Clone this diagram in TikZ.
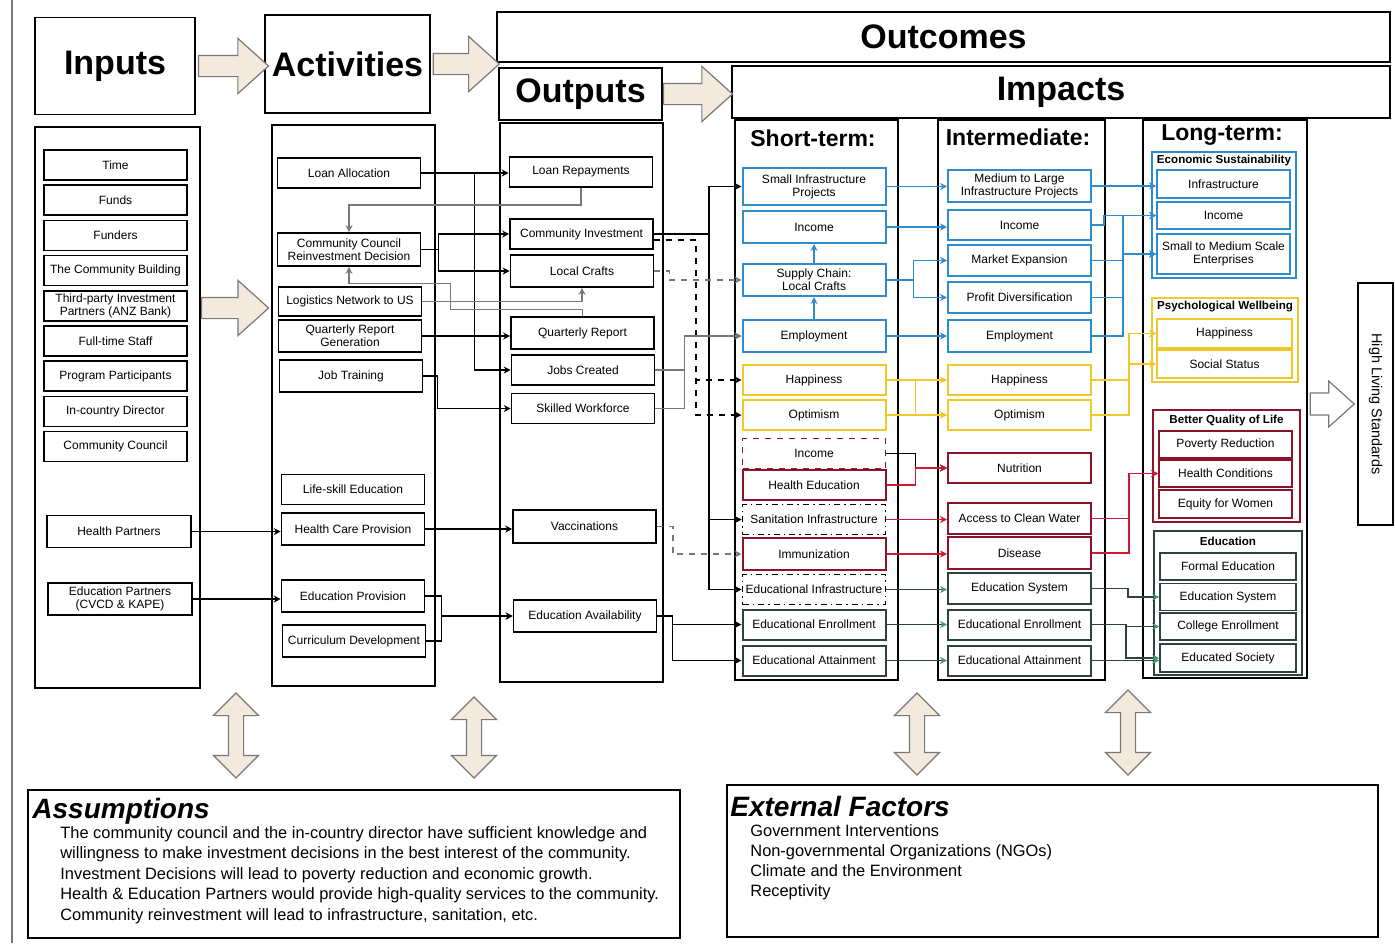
\documentclass[tikz,border=0pt]{standalone}
\usepackage{fontspec}
\setmainfont{Liberation Sans}
\usepackage{graphicx}
\usetikzlibrary{arrows.meta, positioning, shapes.arrows}

\definecolor{skyb}{RGB}{45,140,205}
\definecolor{gold}{RGB}{240,200,40}
\definecolor{crim}{RGB}{205,25,50}
\definecolor{wine}{RGB}{140,20,40}
\definecolor{slate}{RGB}{45,65,65}
\definecolor{sage}{RGB}{70,150,110}
\definecolor{sand}{RGB}{243,233,220}
\definecolor{ash}{RGB}{120,120,120}

\begin{document}
\begin{tikzpicture}[
  x=0.5pt, y=-0.5pt,
  node distance=1.8pt,
  box/.style={draw, line width=0.8pt, minimum width=71.5pt, minimum height=15pt, inner sep=1pt, align=center, font=\fontsize{6}{6.6}\selectfont},
  bbox/.style={box, draw=skyb, line width=1pt},
  ybox/.style={box, draw=gold, line width=1pt},
  rbox/.style={box, draw=wine, line width=1pt},
  ebox/.style={box, draw=slate, line width=1pt},
  lbox/.style={box, minimum width=66.5pt, minimum height=14pt},
  group/.style={draw, line width=1pt},
  grouptitle/.style={font=\fontsize{5.8}{6.4}\selectfont\bfseries},
  col/.style={draw, line width=0.9pt},
  head/.style={draw, line width=0.9pt, font=\fontsize{17}{20}\selectfont\bfseries},
  coltitle/.style={font=\fontsize{11.5}{13}\selectfont\bfseries},
  fatarrow/.style={single arrow, draw=ash, fill=sand, line width=0.6pt, minimum width=0pt, inner xsep=0pt, inner ysep=5pt, single arrow head extend=8.5pt, single arrow tip angle=84},
  updown/.style={double arrow, draw=ash, fill=sand, line width=0.6pt, rotate=90, minimum width=0pt, inner xsep=0pt, inner ysep=3.5pt, double arrow head extend=7.5pt, double arrow tip angle=90},
  link/.style={line width=0.7pt, ->, >={Stealth[length=3.5pt,width=3.5pt]}},
  glink/.style={link, draw=ash},
  dlink/.style={link, dashed},
  blink/.style={link, draw=skyb},
  ylink/.style={link, draw=gold},
  rlink/.style={link, draw=crim},
  elink/.style={link, draw=slate, >={Stealth[length=3.5pt,width=3.5pt,color=sage]}}
]
\useasboundingbox (0,0) rectangle (1395,943);

% Page edge
\draw[line width=0.6pt, ash] (12,0) -- (12,943);

% Headers
\node[head, minimum width=80pt, minimum height=48.5pt] (inH) at (115,66) {Inputs};
\node[head, minimum width=80.5pt, minimum height=49pt] (actH) at (347.5,64) {Activities};
\node[head, minimum width=446.5pt, minimum height=25pt] (outcH) at (943.5,37) {Outcomes};
\node[head, minimum width=81.5pt, minimum height=26pt] (outpH) at (580.5,94) {Outputs};
\node[head, minimum width=329pt, minimum height=26pt] (impH) at (1061,92) {Impacts};

\node[fatarrow, anchor=tail, minimum height=35pt] (arIA) at ([xshift=1pt]inH.east) {};
\node[fatarrow, anchor=tail, minimum height=33pt] (arAO) at ([xshift=1pt]actH.east) {};
\node[fatarrow, anchor=tail, minimum height=34.5pt] (arOI) at (outpH.east) {};

% Columns
\node[col, minimum width=82.5pt, minimum height=280.5pt] (colIn) at (117.5,407.5) {};
\node[col, minimum width=81.5pt, minimum height=280.5pt] (colAct) at (353.5,405.5) {};
\node[col, minimum width=81.5pt, minimum height=279.5pt] (colOut) at (581.5,402.5) {};
\node[col, minimum width=81.5pt, minimum height=280pt] (colST) at (816.5,400) {};
\node[col, minimum width=83.5pt, minimum height=280pt] (colInt) at (1021.5,400) {};
\node[col, minimum width=82pt, minimum height=279pt] (colLT) at (1225,399) {};

\node[fatarrow, anchor=tail, minimum height=33.5pt] (arCol) at (201,308) {};

\node[coltitle] (stT) at (813,138) {Short-term:};
\node[coltitle] (intT) at (1018,137) {Intermediate:};
\node[coltitle] (ltT) at (1222,135) {Long-term:};

% Inputs
\node[box] (time) at (115.5,165) {Time};
\node[box, below=of time] (funds) {Funds};
\node[box, below=of funds] (funders) {Funders};
\node[box, below=of funders] (cbld) {The Community Building};
\node[box, below=of cbld] (tpip) {Third-party Investment\\Partners (ANZ Bank)};
\node[box, below=of tpip] (staff) {Full-time Staff};
\node[box, below=of staff] (ppart) {Program Participants};
\node[box, below=of ppart] (icd) {In-country Director};
\node[box, below=of icd] (ccl) {Community Council};
\node[box, minimum width=72pt, minimum height=16pt] (hp) at (119,531.5) {Health Partners};
\node[box, minimum width=72pt, minimum height=16pt] (edp) at (120,599) {Education Partners\\(CVCD \& KAPE)};

% Activities
\node[box] (la) at (349,173) {Loan Allocation};
\node[box, minimum height=16.5pt] (ccrd) at (349,249.5) {Community Council\\Reinvestment Decision};
\node[box, minimum height=14.5pt] (lnus) at (350,301.5) {Logistics Network to US};
\node[box, minimum height=16pt] (qrg) at (350,336) {Quarterly Report\\Generation};
\node[box, minimum height=16pt] (jt) at (351,376) {Job Training};
\node[box] (lse) at (353,489.5) {Life-skill Education};
\node[box, minimum height=16pt] (hcp) at (353,529) {Health Care Provision};
\node[box, minimum height=16pt] (ep) at (353,596) {Education Provision};
\node[box, minimum height=16pt] (cd) at (354,641) {Curriculum Development};

% Outputs
\node[box] (lr) at (581,172) {Loan Repayments};
\node[box] (ci) at (581.5,234) {Community Investment};
\node[box, minimum height=16pt] (lc) at (582,271) {Local Crafts};
\node[box, minimum height=16pt] (qr) at (582.5,333) {Quarterly Report};
\node[box] (jc) at (583,370) {Jobs Created};
\node[box] (sw) at (583,408.5) {Skilled Workforce};
\node[box, minimum height=16.5pt] (vac) at (584.5,526.5) {Vaccinations};
\node[box, minimum height=16pt] (edav) at (585,616) {Education Availability};

% Short-term
\node[bbox, minimum height=18.5pt] (sip) at (814,186.5) {Small Infrastructure\\Projects};
\node[bbox, minimum height=16pt] (sinc) at (814,227) {Income};
\node[bbox, minimum height=16pt] (scl) at (814,280) {Supply Chain:\\Local Crafts};
\node[bbox, minimum height=16pt] (semp) at (814,336) {Employment};
\node[ybox] (shap) at (814,380) {Happiness};
\node[ybox] (sopt) at (814,415) {Optimism};
\node[box, dashed, draw=wine] (sinc2) at (814,453.5) {Income};
\node[rbox] (she) at (814,485) {Health Education};
\node[box, dash dot] (ssan) at (814,519.5) {Sanitation Infrastructure};
\node[rbox, minimum height=16pt] (simm) at (814,554) {Immunization};
\node[box, dash dot] (sedi) at (814,589.5) {Educational Infrastructure};
\node[ebox] (senr) at (814,624.5) {Educational Enrollment};
\node[ebox] (satt) at (814,660.5) {Educational Attainment};

% Intermediate
\node[bbox, minimum height=16pt] (iml) at (1019.5,186) {Medium to Large\\Infrastructure Projects};
\node[bbox] (iinc) at (1019.5,225) {Income};
\node[bbox, minimum height=15.5pt] (imkt) at (1019.5,260.5) {Market Expansion};
\node[bbox, minimum height=15.5pt] (iprof) at (1019.5,297.5) {Profit Diversification};
\node[bbox, minimum height=16pt] (iemp) at (1019.5,336) {Employment};
\node[ybox] (ihap) at (1019.5,380) {Happiness};
\node[ybox] (iopt) at (1019.5,415) {Optimism};
\node[rbox] (inut) at (1019.5,468) {Nutrition};
\node[rbox, minimum height=15.5pt] (iacw) at (1019.5,518.5) {Access to Clean Water};
\node[rbox, minimum height=16pt] (idis) at (1019.5,553) {Disease};
\node[ebox, minimum height=15.5pt] (iedsys) at (1019.5,588.5) {Education System};
\node[ebox] (ienr) at (1019.5,624.5) {Educational Enrollment};
\node[ebox] (iatt) at (1019.5,660.5) {Educational Attainment};

% Long-term
\node[group, draw=skyb, minimum width=72pt, minimum height=63pt] (gEcon) at (1224,215) {};
\node[grouptitle] (gEconT) at (1224,160) {Economic Sustainability};
\node[lbox, draw=skyb] (linf) at (1223.5,184) {Infrastructure};
\node[lbox, draw=skyb, minimum height=13.5pt] (linc) at (1223.5,215.5) {Income};
\node[lbox, draw=skyb, minimum height=20pt] (lsme) at (1223.5,254) {Small to Medium Scale\\Enterprises};

\node[group, draw=gold, minimum width=73pt, minimum height=42pt] (gPsy) at (1225,340) {};
\node[grouptitle] (gPsyT) at (1225,307) {Psychological Wellbeing};
\node[lbox, draw=gold, minimum width=67.5pt, minimum height=14.5pt] (lhap) at (1224.5,333.5) {Happiness};
\node[lbox, draw=gold, minimum width=67.5pt] (lsoc) at (1224.5,364) {Social Status};

\node[group, draw=wine, minimum width=73.5pt, minimum height=56pt] (gQual) at (1226.5,466) {};
\node[grouptitle] (gQualT) at (1226.5,420) {Better Quality of Life};
\node[lbox, draw=wine, minimum height=13.5pt] (lpov) at (1225.5,444.5) {Poverty Reduction};
\node[lbox, draw=wine, minimum height=13.5pt] (lhea) at (1225.5,473.5) {Health Conditions};
\node[lbox, draw=wine] (lequ) at (1225.5,504) {Equity for Women};

\node[group, draw=slate, minimum width=74pt, minimum height=72pt] (gEdu) at (1228,603) {};
\node[grouptitle] (gEduT) at (1228,541) {Education};
\node[lbox, draw=slate, minimum width=68pt, minimum height=13.5pt] (lfor) at (1228,566.5) {Formal Education};
\node[lbox, draw=slate, minimum width=68pt, minimum height=13.5pt] (lsys) at (1228,597) {Education System};
\node[lbox, draw=slate, minimum width=68pt, minimum height=13.5pt] (lcol) at (1228,626.5) {College Enrollment};
\node[lbox, draw=slate, minimum width=68pt, minimum height=14pt] (lsoc2) at (1228,658) {Educated Society};

% Final goal
\node[draw, line width=0.9pt, minimum width=17.5pt, minimum height=121pt, inner sep=0pt, font=\fontsize{7.2}{8}\selectfont] (hls) at (1375.5,404) {\rotatebox{-90}{High Living Standards}};
\node[fatarrow, fill=white, anchor=tip, minimum height=22pt, inner ysep=5.2pt, single arrow head extend=6pt] (arLH) at ([xshift=-1pt]hls.west) {};

% Activities to outputs
\draw[link] (la.east) -- (la.east -| lr.west);
\draw[link] (la.east) -- ++(53,0) |- (jc.west);
\draw[glink] (lr.south) -- ++(0,17) -| (ccrd.north);
\draw[link] (ccrd.east) -- ++(17,0) |- (ci.west);
\draw[link] (ccrd.east) -- ++(17,0) |- (lc.west);
\draw[glink] (lnus.east) -| (lc.south);
\draw[glink] (qr.north) -- ++(0,-7) -- ++(-132,0) -- ++(0,-26) -| (ccrd.south);
\draw[link] (qrg.east) -- (qrg.east -| qr.west);
\draw[link] (jt.east) -- ++(14,0) |- (sw.west);
\draw[link] (hp.east) -- (hp.east -| hcp.west);
\draw[link] (edp.east) -- (edp.east -| ep.west);
\draw[link] (hcp.east) -- (hcp.east -| vac.west);
\draw[link] (ep.east) -- ++(16,0) |- (edav.west);
\draw[link] (cd.east) -- ++(15,0) |- (edav.west);

% Outputs to short-term
\draw[link] (ci.east) -- ++(55,0) |- (sip.west);
\draw[link] (ci.east) -- ++(55,0) |- (ssan.west);
\draw[link] (ci.east) -- ++(55,0) |- (sedi.west);
\draw[dlink] ([yshift=-3pt]ci.east) -- ++(42,0) |- (shap.west);
\draw[dlink] ([yshift=-3pt]ci.east) -- ++(42,0) |- (sopt.west);
\draw[glink, dashed] (lc.east) -- ++(15,0) |- (scl.west);
\draw[glink] (jc.east) -- ++(29,0) |- (semp.west);
\draw[glink] (sw.east) -- ++(29,0) |- (semp.west);
\draw[glink, dashed] (vac.east) -- ++(16,0) |- (simm.west);
\draw[link] (edav.east) -- ++(15,0) |- (senr.west);
\draw[link] (edav.east) -- ++(15,0) |- (satt.west);

% Inside short-term
\draw[blink] (semp.north) -- (scl.south);
\draw[blink] (scl.north) -- (sinc.south);

% Short-term to intermediate
\draw[blink] (sip.east) -- (sip.east -| iml.west);
\draw[blink] (sinc.east) -- (sinc.east -| iinc.west);
\draw[blink] (scl.east) -- ++(27,0) |- (imkt.west);
\draw[blink] (scl.east) -- ++(27,0) |- (iprof.west);
\draw[blink] (semp.east) -- (semp.east -| iemp.west);
\draw[ylink] (shap.east) -- ++(29,0) |- (iopt.west);
\draw[ylink] (shap.east) -- (shap.east -| ihap.west);
\draw[ylink] (sopt.east) -- (sopt.east -| iopt.west);
\draw[link] (sinc2.east) -- ++(29,0) |- (inut.west);
\draw[rlink] (she.east) -- ++(29,0) |- (inut.west);
\draw[rlink] (ssan.east) -- (ssan.east -| iacw.west);
\draw[rlink] (simm.east) -- (simm.east -| idis.west);
\draw[elink] (sedi.east) -- (sedi.east -| iedsys.west);
\draw[elink] (senr.east) -- (senr.east -| ienr.west);
\draw[elink] (satt.east) -- (satt.east -| iatt.west);

% Intermediate to long-term
\draw[blink] (iml.east) -- (iml.east -| linf.west);
\draw[blink] (iinc.east) -- ++(12,0) |- (linc.west);
\draw[blink] (iemp.east) -- ++(31,0) |- (linc.west);
\draw[blink] (imkt.east) -- ++(31,0) |- (lsme.west);
\draw[blink] (iprof.east) -- ++(31,0) |- (lsme.west);
\draw[blink] (iemp.east) -- ++(31,0) |- (lsme.west);
\draw[ylink] (ihap.east) -- ++(37,0) |- (lhap.west);
\draw[ylink] (iopt.east) -- ++(37,0) |- (lhap.west);
\draw[ylink] (iopt.east) -- ++(37,0) |- (lsoc.west);
\draw[rlink] (iacw.east) -- ++(37,0) |- (lhea.west);
\draw[rlink] (idis.east) -- ++(37,0) |- (lhea.west);
\draw[elink] (iedsys.east) -- ++(36,0) |- (lsys.west);
\draw[elink] (ienr.east) -- ++(34,0) |- (lcol.west);
\draw[elink] (ienr.east) -- ++(34,0) |- (lsoc2.west);
\draw[elink] (iatt.east) -- (iatt.east -| lsoc2.west);

% Two-way arrows to the bottom boxes
\node[updown, minimum height=42.5pt] (udIn) at (236,735.5) {};
\node[updown, minimum height=40.5pt] (udAct) at (474,737.5) {};
\node[updown, minimum height=41pt] (udST) at (917,734) {};
\node[updown, minimum height=42.5pt] (udLT) at (1128,732.5) {};

% Assumptions
\node[draw, line width=0.9pt, minimum width=326pt, minimum height=74pt] (assum) at (354,864) {};
\node[anchor=west, inner sep=0pt, font=\fontsize{14}{16}\selectfont\bfseries\itshape] (assumT) at (32,811) {Assumptions};
\node[anchor=north west, inner sep=0pt, align=left, font=\fontsize{8.2}{10.25}\selectfont] (assumB) at (60,826) {The community council and the in-country director have sufficient knowledge and\\willingness to make investment decisions in the best interest of the community.\\Investment Decisions will lead to poverty reduction and economic growth.\\Health \& Education Partners would provide high-quality services to the community.\\Community reinvestment will lead to infrastructure, sanitation, etc.};

% External factors
\node[draw, line width=0.9pt, minimum width=325.5pt, minimum height=76pt] (extf) at (1052.5,861) {};
\node[anchor=west, inner sep=0pt, font=\fontsize{14}{16}\selectfont\bfseries\itshape] (extT) at (730,806) {External Factors};
\node[anchor=north west, inner sep=0pt, align=left, font=\fontsize{8.2}{10}\selectfont] (extB) at (750,824) {Government Interventions\\Non-governmental Organizations (NGOs)\\Climate and the Environment\\Receptivity};

\end{tikzpicture}
\end{document}
